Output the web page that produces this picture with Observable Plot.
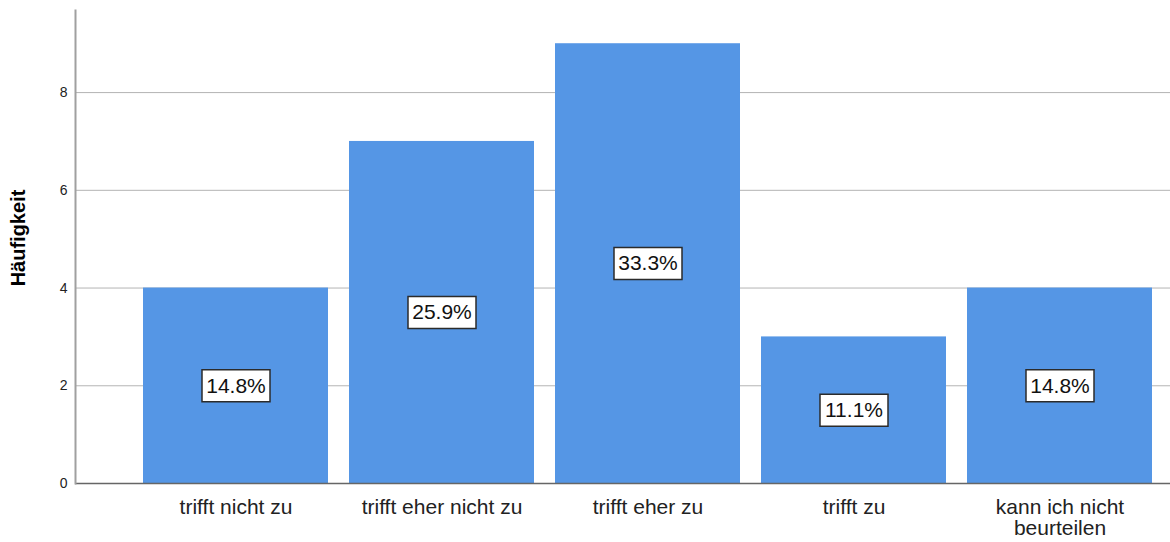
<!DOCTYPE html>
<html>
<head>
<meta charset="utf-8">
<script src="https://cdn.jsdelivr.net/npm/d3@7"></script>
<script src="https://cdn.jsdelivr.net/npm/@observablehq/plot@0.6"></script>
<style>
  html, body { margin: 0; padding: 0; background: #fff; }
  svg { display: block; }
</style>
</head>
<body>
<div id="chart"></div>
<script>
const categories = ["trifft nicht zu", "trifft eher nicht zu", "trifft eher zu", "trifft zu", "kann ich nicht beurteilen"];
const counts = [4, 7, 9, 3, 4];
const yTicks = [0, 2, 4, 6, 8];
const gridTicks = [2, 4, 6, 8];
const tickLabels = {"kann ich nicht beurteilen": "kann ich nicht\nbeurteilen"};

const total = d3.sum(counts);
const data = categories.map((c, i) => ({cat: c, n: counts[i], pct: (counts[i] / total * 100).toFixed(1) + "%"}));

const boxSymbol = {
  draw(ctx) {
    const w = 68, h = 32;
    ctx.moveTo(-w / 2, -h / 2);
    ctx.lineTo(w / 2, -h / 2);
    ctx.lineTo(w / 2, h / 2);
    ctx.lineTo(-w / 2, h / 2);
    ctx.closePath();
  }
};

const chart = Plot.plot({
  width: 1170,
  height: 542,
  marginLeft: 75,
  marginRight: 0,
  marginTop: 10,
  marginBottom: 59,
  style: {fontFamily: "'Liberation Sans', Arial, sans-serif", background: "#fff"},
  x: {domain: categories, paddingInner: 0.1, paddingOuter: 0, insetLeft: 68, insetRight: 17},
  y: {domain: [0, 9.68]},
  marks: [
    Plot.gridY(gridTicks, {stroke: "#b4b4b4", strokeOpacity: 1, strokeWidth: 1}),
    Plot.barY(data, {x: "cat", y: "n", fill: "#5596e5"}),
    Plot.ruleY([0], {stroke: "#666", strokeWidth: 1.5}),
    Plot.frame({anchor: "left", stroke: "#a0a0a0", strokeWidth: 2}),
    Plot.axisY(yTicks, {tickSize: 0, tickPadding: 8, fontSize: 14, fill: "#222", label: null}),
    Plot.axisX({tickSize: 0, tickPadding: 16, fontSize: 21, fill: "#222", label: null,
      tickFormat: d => tickLabels[d] ?? d}),
    Plot.text(["Häufigkeit"], {frameAnchor: "left", textAnchor: "middle", rotate: -90, dx: -57, dy: -9, fontSize: 20, fontWeight: "bold", fill: "#000"}),
    Plot.dot(data, {x: "cat", y: d => d.n / 2, symbol: boxSymbol, r: 10, fill: "#fff", stroke: "#2b2b2b", strokeWidth: 1.5}),
    Plot.text(data, {x: "cat", y: d => d.n / 2, text: "pct", fontSize: 21, fill: "#111"})
  ]
});
document.getElementById("chart").appendChild(chart);
</script>
</body>
</html>
